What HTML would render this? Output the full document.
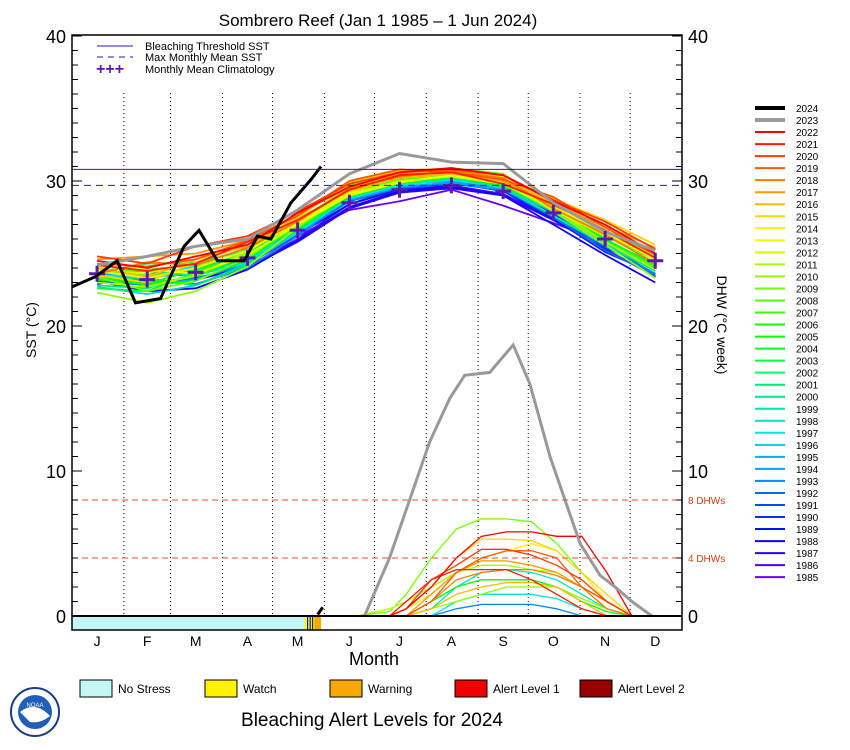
<!DOCTYPE html>
<html><head><meta charset="utf-8"><style>
body{margin:0;background:#fff;}
svg{display:block;font-family:"Liberation Sans",sans-serif;}
</style></head><body>
<svg id="chart" width="850" height="750" viewBox="0 0 850 750">
<text x="378" y="26" font-size="17" text-anchor="middle">Sombrero Reef      (Jan 1 1985 – 1 Jun 2024)</text>
<g id="grid"></g>
<g id="series"></g>
<g id="dhw"></g>
<g id="axes"></g>
<g id="legend"></g>
<g font-size="11">
 <line x1="97" y1="46" x2="133" y2="46" stroke="#3a10b0" stroke-width="1"/>
 <text x="145" y="50">Bleaching Threshold SST</text>
 <line x1="97" y1="57" x2="133" y2="57" stroke="#3a10b0" stroke-dasharray="6,5"/>
 <text x="145" y="61">Max Monthly Mean SST</text>
 <text x="96" y="74" font-size="16" font-weight="bold" fill="#5a1ab0">+++</text>
 <text x="145" y="73">Monthly Mean Climatology</text>
</g>
<text x="374" y="665" font-size="18" text-anchor="middle">Month</text>
<text transform="translate(36,330) rotate(-90)" font-size="14" text-anchor="middle">SST (°C)</text>
<text transform="translate(717,325) rotate(90)" font-size="14" text-anchor="middle">DHW (°C week)</text>
<g font-size="12">
 <rect x="80" y="680" width="32" height="17" fill="#c4f6f6" stroke="#000"/><text x="118" y="693">No Stress</text>
 <rect x="205" y="680" width="32" height="17" fill="#fff200" stroke="#000"/><text x="243" y="693">Watch</text>
 <rect x="330" y="680" width="32" height="17" fill="#f9a800" stroke="#000"/><text x="368" y="693">Warning</text>
 <rect x="455" y="680" width="32" height="17" fill="#f00000" stroke="#000"/><text x="493" y="693">Alert Level 1</text>
 <rect x="580" y="680" width="32" height="17" fill="#960000" stroke="#000"/><text x="618" y="693">Alert Level 2</text>
</g>
<text x="372" y="726" font-size="19" text-anchor="middle">Bleaching Alert Levels for 2024</text>
<g>
 <circle cx="35" cy="712" r="24" fill="#fff" stroke="#1a3b8c" stroke-width="2"/>
 <circle cx="35" cy="712" r="17" fill="#1f5fb8"/>
 <path d="M20 712 Q35 700 50 716 Q40 724 30 722 Z" fill="#fff"/>
 <text x="35" y="707" font-size="6" fill="#fff" text-anchor="middle">NOAA</text>
</g>
</svg>
<script>
const NS='http://www.w3.org/2000/svg';
const monthDays=[15,45,74,105,135,166,196,227,258,288,319,349];
const monthLabels=['J','F','M','A','M','J','J','A','S','O','N','D'];
const monthStarts=[31,59,90,120,151,181,212,243,273,304,334];
const yTicks=[0,10,20,30,40];
const climatology=[23.6,23.2,23.7,24.7,26.6,28.5,29.4,29.7,29.3,27.8,26.0,24.5];
const thresholdSST=30.8;
const mmmSST=29.7;
const dhwLines=[8,4];
const years=[2022,2021,2020,2019,2018,2017,2016,2015,2014,2013,2012,2011,2010,2009,2008,2007,2006,2005,2004,2003,2002,2001,2000,1999,1998,1997,1996,1995,1994,1993,1992,1991,1990,1989,1988,1987,1986,1985];
const sstByYear={
2022:[24.5,24.0,24.8,25.6,27.8,29.6,30.6,30.9,30.4,28.6,27.0,25.0],
2021:[24.2,23.8,24.3,25.8,27.3,29.4,30.4,30.6,29.8,28.4,26.6,24.7],
2020:[24.8,24.3,25.5,26.2,27.9,29.8,30.6,30.8,30.4,28.7,27.2,25.3],
2019:[24.3,24.1,24.6,25.9,27.6,30.0,30.8,30.6,30.1,28.9,26.8,24.9],
2018:[23.6,24.4,24.2,25.4,27.2,29.5,30.3,30.7,30.2,28.1,26.3,24.3],
2017:[24.6,24.8,25.0,25.9,27.7,29.6,30.5,30.6,30.0,28.3,26.9,25.4],
2016:[24.0,23.4,24.6,25.5,27.4,29.3,30.2,30.5,30.1,28.5,26.8,25.0],
2015:[23.5,23.0,24.4,25.6,27.5,29.9,30.7,30.9,30.3,28.8,27.3,25.6],
2014:[23.8,23.3,24.0,25.2,27.1,29.2,30.3,30.6,30.4,28.6,26.4,24.6],
2013:[24.1,23.9,23.6,24.9,27.0,29.0,29.9,30.4,29.9,28.2,26.5,24.8],
2012:[23.9,23.6,24.6,25.8,27.0,29.1,30.0,30.3,29.8,28.0,26.2,24.4],
2011:[23.0,22.7,23.5,25.1,27.3,29.5,30.4,30.7,30.0,28.1,25.8,23.9],
2010:[22.3,21.6,22.4,24.1,26.8,29.4,30.3,30.8,30.1,27.9,25.6,23.3],
2009:[23.4,22.4,23.1,24.7,27.1,29.7,30.6,30.9,30.5,28.2,26.5,24.8],
2008:[23.7,23.9,24.2,25.0,26.8,29.1,30.0,30.4,29.9,28.0,25.8,24.1],
2007:[23.8,23.5,23.8,24.8,26.9,29.0,30.1,30.3,29.8,28.2,26.2,24.6],
2006:[23.2,22.9,23.4,24.9,27.2,29.2,30.2,30.5,30.0,28.3,25.9,24.0],
2005:[23.5,22.8,23.1,24.6,27.0,29.4,30.3,30.6,29.9,28.1,26.4,24.3],
2004:[23.4,22.9,23.9,25.0,26.7,28.9,29.9,30.3,29.7,28.0,26.0,24.2],
2003:[22.6,22.4,23.7,25.3,27.3,29.0,29.8,30.2,30.1,28.4,26.6,24.8],
2002:[23.7,24.3,24.4,25.2,26.8,29.0,29.9,30.3,29.8,28.4,26.0,24.0],
2001:[23.2,23.3,22.8,24.2,26.6,28.9,29.8,30.3,29.6,28.0,25.9,24.1],
2000:[22.8,22.6,23.6,24.6,26.9,29.1,30.0,30.2,29.6,27.6,25.6,23.8],
1999:[23.4,23.3,23.8,24.3,26.7,28.9,29.9,30.2,29.6,27.9,25.8,24.0],
1998:[23.6,23.8,23.5,24.4,27.0,29.6,30.3,30.5,30.1,28.4,26.8,25.0],
1997:[23.5,23.5,24.1,24.6,26.5,28.8,29.7,30.1,29.6,27.9,26.0,24.1],
1996:[22.7,22.2,22.8,24.3,26.4,28.9,29.8,30.1,29.5,27.6,25.7,23.8],
1995:[23.4,22.8,23.2,24.4,26.8,29.1,29.8,30.0,29.6,28.2,25.9,24.3],
1994:[23.5,23.4,23.7,25.1,26.8,28.7,29.6,29.9,29.4,28.0,26.2,24.6],
1993:[23.6,23.1,22.9,24.0,26.2,28.8,29.7,30.1,29.5,27.6,25.5,23.6],
1992:[23.1,22.8,23.3,24.2,26.4,28.6,29.5,29.8,29.4,27.5,25.2,23.5],
1991:[23.6,23.3,24.0,24.9,26.7,28.8,29.5,29.9,29.3,27.8,25.7,24.0],
1990:[23.3,23.6,23.8,24.6,26.6,28.9,29.8,30.0,29.5,27.7,25.4,23.9],
1989:[22.9,23.4,23.6,24.5,26.3,28.4,29.5,29.9,29.3,27.4,25.1,23.6],
1988:[23.1,22.4,22.6,23.9,25.9,28.2,29.3,29.6,29.0,27.0,24.9,23.0],
1987:[23.7,23.0,23.2,24.0,25.8,28.1,29.2,29.5,29.0,27.3,25.3,23.4],
1986:[23.4,22.9,23.2,24.1,26.0,28.4,29.4,29.7,29.1,27.4,25.5,23.6],
1985:[23.2,23.5,23.7,24.3,26.2,28.0,28.6,29.4,28.3,27.1,25.8,23.4]};
const sst2023=[24.2,24.8,25.5,26.0,28.0,30.5,31.9,31.3,31.2,28.5,26.5,25.2];
const days2024=[0,14,27,38,53,67,76,87,103,111,119,131,143,149];
const sst2024=[22.7,23.4,24.5,21.6,21.9,25.5,26.6,24.5,24.5,26.2,26.0,28.5,30.1,31.0];
const dhwDays=[150,170,190,200,215,230,245,260,275,290,305,320,335,350];
const dhwByYear={
2022:[0,0,0,0.5,2,4,5.5,5.8,5.8,5.5,5.5,3,0,0],
2021:[0,0,0,1,2.5,3.2,3.2,3.2,2.5,1.5,0.5,0,0,0],
2020:[0,0,0,0.5,2.5,3.5,4.6,4.6,4.2,3.5,2.5,1,0,0],
2019:[0,0,0,0,1,3,4,4.5,4.5,4,2,1,0,0],
2018:[0,0,0,0,1,2.5,3,3.2,3.2,2.8,2,0.5,0,0],
2017:[0,0,0,0,1.5,3,3.8,3.8,3.5,3,2,1,0,0],
2016:[0,0,0,0,0.5,1.5,2,2.3,2.3,2,1,0,0,0],
2015:[0,0,0,0.5,2,4,5.3,5.3,5.2,4.5,3,1.5,0,0],
2014:[0,0,0,0.5,1.5,3,4,4.5,5,4.5,3,1,0,0],
2011:[0,0,0.5,1,2,3,3.5,3.5,3.2,3.0,2,0.5,0,0],
2010:[0,0,0,0,0.5,1,1.5,2,2,2,1.2,0.5,0,0],
2009:[0,0,0.3,1.5,4,6,6.7,6.7,6.5,5.0,3,1,0,0],
2005:[0,0,0,0,1,2,2.5,2.5,2.5,2,1,0.3,0,0],
1998:[0,0,0,0,0.5,2,3,3.2,3,2.5,1.5,0.5,0,0],
1997:[0,0,0,0,0,1,1.5,1.5,1.5,1.2,0.5,0,0,0],
1993:[0,0,0,0,0,0.5,0.8,0.8,0.8,0.5,0,0,0,0]};
const dhw2023Days=[175,190,202,214,226,235,250,264,274,286,295,304,316,325,335,347];
const dhw2023=[0,4,8,12,15,16.6,16.8,18.7,16,11,8,5,2.8,2,1,0];
const alertDays=[0,139,140,142,143,145,149];
const alertLevels=['none','watch','none','watch','watch','warning','end'];

const X0=72,X1=682,YTOP=35,YBOT=630;
const x=d=>X0+d*(X1-X0)/365;
const y=v=>616-v*14.5;
function mk(tag,attrs,parent){const e=document.createElementNS(NS,tag);for(const k in attrs)e.setAttribute(k,attrs[k]);parent.appendChild(e);return e;}
function yearColor(yr){const t=(2022-yr)/37;return 'hsl('+(t*265).toFixed(0)+',100%,'+(t>0.55&&t<0.75?45:50)+'%)';}
function pts(ds,vs){return ds.map((d,i)=>x(d).toFixed(1)+','+y(vs[i]).toFixed(1)).join(' ');}
const grid=document.getElementById('grid'),ser=document.getElementById('series'),dh=document.getElementById('dhw'),ax=document.getElementById('axes'),lg=document.getElementById('legend');

monthStarts.forEach(d=>{const l=mk('line',{x1:x(d),x2:x(d),y1:93,y2:616,stroke:'#000','stroke-dasharray':'1,3'},grid);

});

let t=mk('line',{x1:X0,x2:X1,y1:y(thresholdSST),y2:y(thresholdSST),stroke:'#3a10b0'},ax);


t=mk('line',{x1:X0,x2:X1,y1:y(mmmSST),y2:y(mmmSST),stroke:'#3a10b0','stroke-dasharray':'7,5'},ax);


dhwLines.forEach(v=>{const l=mk('line',{x1:X0,x2:X1,y1:y(v),y2:y(v),stroke:'#e0502a','stroke-dasharray':'6,4'},ax);


const tx=mk('text',{x:688,y:y(v)+4,'font-size':10,fill:'#d0401a'},ax);tx.textContent=v+' DHWs';

});

years.slice().reverse().forEach(yr=>{const p=mk('polyline',{points:pts(monthDays,sstByYear[yr]),fill:'none',stroke:yearColor(yr),'stroke-width':1.8},ser);

});
let p=mk('polyline',{points:pts(monthDays,sst2023),fill:'none',stroke:'#999','stroke-width':3},ser);


climatology.forEach((v,i)=>{const cx=x(monthDays[i]),cy=y(v);
const g=mk('path',{d:`M${cx-8} ${cy}H${cx+8}M${cx} ${cy-8}V${cy+8}`,stroke:'#5a1ab0','stroke-width':3},ser);

});
p=mk('polyline',{points:pts(days2024,sst2024),fill:'none',stroke:'#000','stroke-width':3},ser);



Object.keys(dhwByYear).forEach(yr=>{const q=mk('polyline',{points:pts(dhwDays,dhwByYear[yr]),fill:'none',stroke:yearColor(+yr),'stroke-width':1.3},dh);

});
p=mk('polyline',{points:pts(dhw2023Days,dhw2023),fill:'none',stroke:'#999','stroke-width':3},dh);


p=mk('line',{x1:x(147),y1:y(0.1),x2:x(150),y2:y(0.6),stroke:'#000','stroke-width':3},dh);



const alertColors={none:'#c4f6f6',watch:'#fff200',warning:'#f9a800'};
for(let i=0;i<alertDays.length-1;i++){const r=mk('rect',{x:x(alertDays[i]),y:616,width:x(alertDays[i+1])-x(alertDays[i]),height:14,fill:alertColors[alertLevels[i]]},ax);

}
[141,142.5,144].forEach(d=>{const l=mk('line',{x1:x(d),x2:x(d),y1:616,y2:630,stroke:'#000'},ax);

});
p=mk('line',{x1:X0,x2:X1,y1:616,y2:616,stroke:'#000','stroke-width':2},ax);



p=mk('rect',{x:X0,y:YTOP,width:X1-X0,height:YBOT-YTOP,fill:'none',stroke:'#000','stroke-width':1.5},ax);


for(let v=0;v<=40;v++){const len=v%10===0?10:6;
const a=mk('path',{d:`M${X0} ${y(v)}h${len}M${X1} ${y(v)}h${-len}`,stroke:'#000'},ax);

}
yTicks.forEach(v=>{const a=mk('text',{x:66,y:y(v)+7,'font-size':18,'text-anchor':'end'},ax);a.textContent=v;


const b=mk('text',{x:688,y:y(v)+7,'font-size':18},ax);b.textContent=v;

});
monthLabels.forEach((m,i)=>{const a=mk('text',{x:x(monthDays[i]),y:646,'font-size':14,'text-anchor':'middle'},ax);a.textContent=m;

});

const legYears=[2024,2023].concat(years);
legYears.forEach((yr,i)=>{const ly=108+i*12.03;
const col=yr===2024?'#000':yr===2023?'#999':yearColor(yr);
const l=mk('line',{x1:755,x2:785,y1:ly,y2:ly,stroke:col,'stroke-width':yr>=2023?4:2},lg);


const tx=mk('text',{x:796,y:ly+4,'font-size':10},lg);tx.textContent=yr;

});
</script>
</body></html>
